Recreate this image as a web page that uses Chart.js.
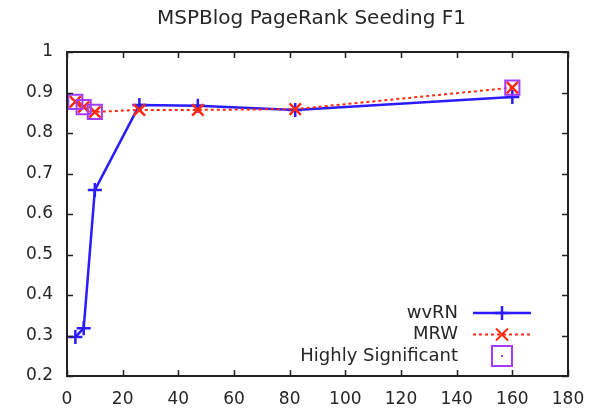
<!DOCTYPE html>
<html>
<head>
<meta charset="utf-8">
<script src="https://cdn.jsdelivr.net/npm/chart.js@4.4.1/dist/chart.umd.min.js"></script>
<style>
  html, body { margin: 0; padding: 0; background: #fff; }
</style>
</head>
<body>
<canvas id="myChart" width="594" height="408"></canvas>
<script>
// Daten
const seedCounts = [3, 6, 10, 26, 47, 82, 160];
const wvrnF1 = [0.296, 0.318, 0.659, 0.869, 0.867, 0.857, 0.889];
const mrwF1 = [0.877, 0.864, 0.852, 0.857, 0.857, 0.859, 0.912];
const significantX = [3, 6, 10, 160];
const significantY = [0.877, 0.864, 0.852, 0.912];
const xTickValues = [0, 20, 40, 60, 80, 100, 120, 140, 160, 180];
const yTickValues = [0.2, 0.3, 0.4, 0.5, 0.6, 0.7, 0.8, 0.9, 1];
const chartTitle = 'MSPBlog PageRank Seeding F1';

const FONT = '"DejaVu Sans", Verdana, sans-serif';
const TEXT = '#262626';

function toPoints(xs, ys) {
    return xs.map((x, i) => ({ x: x, y: ys[i] }));
}

// Marker zeichnen (fuer die Legende)
function drawMarker(ctx, style, x, y, r) {
    ctx.beginPath();
    if (style === 'cross') {
        ctx.moveTo(x - r, y); ctx.lineTo(x + r, y);
        ctx.moveTo(x, y - r); ctx.lineTo(x, y + r);
    } else if (style === 'crossRot') {
        const d = r * 0.75;
        ctx.moveTo(x - d, y - d); ctx.lineTo(x + d, y + d);
        ctx.moveTo(x + d, y - d); ctx.lineTo(x - d, y + d);
    } else if (style === 'rect') {
        ctx.rect(x - r, y - r, 2 * r, 2 * r);
    }
    ctx.stroke();
}

// Rahmen mit Ticks nach innen (gnuplot-Stil) + Titel
const framePlugin = {
    id: 'frame',
    afterDraw(chart) {
        const ctx = chart.ctx;
        const a = chart.chartArea;
        const xs = chart.scales.x;
        const ys = chart.scales.y;
        const len = 6;
        ctx.save();
        ctx.strokeStyle = '#222';
        ctx.lineWidth = 1.5;
        ctx.beginPath();
        xTickValues.forEach(v => {
            const px = Math.round(xs.getPixelForValue(v)) + 0.5;
            ctx.moveTo(px, a.bottom); ctx.lineTo(px, a.bottom - len);
            ctx.moveTo(px, a.top); ctx.lineTo(px, a.top + len);
        });
        yTickValues.forEach(v => {
            const py = Math.round(ys.getPixelForValue(v)) + 0.5;
            ctx.moveTo(a.left, py); ctx.lineTo(a.left + len, py);
            ctx.moveTo(a.right, py); ctx.lineTo(a.right - len, py);
        });
        ctx.stroke();
        ctx.lineWidth = 2;
        ctx.strokeRect(Math.round(a.left), Math.round(a.top),
            Math.round(a.right - a.left), Math.round(a.bottom - a.top));

        // Titel
        ctx.fillStyle = TEXT;
        ctx.font = '20px ' + FONT;
        ctx.textAlign = 'center';
        ctx.textBaseline = 'middle';
        ctx.fillText(chartTitle, (a.left + a.right) / 2 - 6, 19);
        ctx.restore();
    }
};

// Legende unten rechts im Plotbereich
const legendPlugin = {
    id: 'insideLegend',
    afterDraw(chart) {
        const ctx = chart.ctx;
        const a = chart.chartArea;
        const textRight = a.right - 110;
        const lineStart = a.right - 95;
        const lineEnd = a.right - 37;
        const markerX = (lineStart + lineEnd) / 2;
        let rowY = a.bottom - 63;
        ctx.save();
        ctx.font = '18px ' + FONT;
        ctx.textAlign = 'right';
        ctx.textBaseline = 'middle';
        chart.data.datasets.forEach(ds => {
            ctx.fillStyle = TEXT;
            ctx.fillText(ds.label, textRight, rowY);
            ctx.strokeStyle = ds.borderColor;
            ctx.lineWidth = ds.borderWidth;
            if (ds.showLine) {
                ctx.setLineDash(ds.borderDash || []);
                ctx.beginPath();
                ctx.moveTo(lineStart, rowY);
                ctx.lineTo(lineEnd, rowY);
                ctx.stroke();
                ctx.setLineDash([]);
            }
            drawMarker(ctx, ds.pointStyle, markerX, rowY, ds.pointRadius);
            if (ds.pointStyle === 'rect') {
                ctx.fillStyle = ds.borderColor;
                ctx.fillRect(markerX - 1, rowY - 1, 2, 2);
            }
            rowY += 21.5;
        });
        ctx.restore();
    }
};

const ctx = document.getElementById('myChart');

const chart = new Chart(ctx, {
    type: 'scatter',
    data: {
        datasets: [{
            label: 'wvRN',
            data: toPoints(seedCounts, wvrnF1),
            showLine: true,
            borderColor: '#2a1cff',
            backgroundColor: '#2a1cff',
            borderWidth: 2.5,
            pointStyle: 'cross',
            pointRadius: 7,
            pointBorderWidth: 2.5,
            order: 3
        }, {
            label: 'MRW',
            data: toPoints(seedCounts, mrwF1),
            showLine: true,
            borderColor: '#ff2a10',
            backgroundColor: '#ff2a10',
            borderWidth: 2,
            borderDash: [3, 3],
            pointStyle: 'crossRot',
            pointRadius: 8,
            pointBorderWidth: 2.5,
            order: 2
        }, {
            label: 'Highly Significant',
            data: toPoints(significantX, significantY),
            showLine: false,
            borderColor: '#a23cff',
            backgroundColor: 'rgba(0,0,0,0)',
            borderWidth: 2,
            pointStyle: 'rect',
            pointRadius: 10,
            pointBorderWidth: 2,
            order: 1
        }]
    },
    options: {
        responsive: false,
        animation: false,
        devicePixelRatio: 1,
        layout: { padding: { left: 0, right: 26, top: 52, bottom: 0 } },
        plugins: {
            legend: { display: false },
            tooltip: { enabled: false },
            title: { display: false }
        },
        scales: {
            x: {
                type: 'linear',
                min: 0,
                max: 180,
                afterBuildTicks: s => { s.ticks = xTickValues.map(v => ({ value: v })); },
                afterFit: s => { s.height = 32; },
                grid: { display: false },
                border: { display: false },
                ticks: {
                    color: TEXT,
                    font: { family: FONT, size: 17 },
                    padding: 5,
                    maxRotation: 0
                }
            },
            y: {
                type: 'linear',
                min: 0.2,
                max: 1,
                afterBuildTicks: s => { s.ticks = yTickValues.map(v => ({ value: v })); },
                afterFit: s => { s.width = 67; },
                grid: { display: false },
                border: { display: false },
                ticks: {
                    color: TEXT,
                    font: { family: FONT, size: 17 },
                    padding: 6,
                    callback: v => String(+v.toFixed(1))
                }
            }
        }
    },
    plugins: [framePlugin, legendPlugin]
});
</script>
</body>
</html>
